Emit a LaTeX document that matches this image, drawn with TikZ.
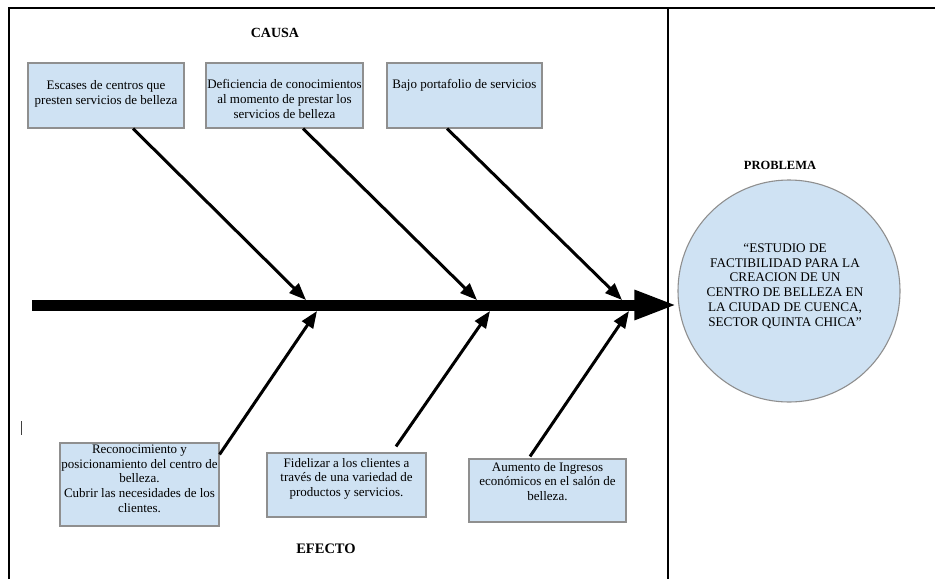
\documentclass[tikz,border=0pt]{standalone}
\usepackage{fontspec}
\setmainfont{Liberation Serif}
\usetikzlibrary{arrows.meta,shapes.geometric}
\definecolor{boxfill}{HTML}{CFE2F3}
\definecolor{boxline}{HTML}{8F8F8F}
\tikzset{
  box/.style={draw=boxline, line width=1.1pt, fill=boxfill, inner sep=0pt},
  txt/.style={font=\fontsize{13}{14.6}\selectfont, align=center, inner sep=0pt, anchor=north},
  head/.style={font=\bfseries\fontsize{14}{16}\selectfont, inner sep=0pt},
  bone/.style={line width=3pt, -{Triangle[length=17pt,width=13pt]}},
  spine/.style={line width=11pt, -{Triangle[length=43pt,width=27pt]}},
  frame/.style={line width=1.2pt, black}
}
\begin{document}
\begin{tikzpicture}[x=1pt,y=-1pt]
\fill[white] (0,0) rectangle (935,579);
\useasboundingbox (0,0) rectangle (935,579);
% frame
\coordinate (fbl) at (9,579);
\coordinate (ftl) at (9,8);
\coordinate (ftr) at (935,8);
\coordinate (fdt) at (668,8);
\coordinate (fdb) at (668,579);
\draw[frame] (fbl) -- (ftl) -- (ftr);
\draw[frame] (fdt) -- (fdb);
% small cursor mark
\coordinate (m1) at (21,421);
\coordinate (m2) at (21,435);
\draw[line width=1pt, black!75] (m1) -- (m2);
% headings
\node[head] (causa) at (275,33) {CAUSA};
\node[head, font=\bfseries\fontsize{14.5}{16}\selectfont] (efecto) at (326,549) {EFECTO};
\node[head, font=\bfseries\fontsize{12.5}{14}\selectfont] (problema) at (780,165) {PROBLEMA};
% cause boxes
\node[box, minimum width=156pt, minimum height=65pt] (c1) at (106,95.5) {};
\node[box, minimum width=157pt, minimum height=65pt] (c2) at (284.5,95.5) {};
\node[box, minimum width=155pt, minimum height=65pt] (c3) at (464.5,95.5) {};
\node[txt] (c1t) at ([yshift=-18pt]c1.north) {Escases de centros que\\presten servicios de belleza};
\node[txt] (c2t) at ([yshift=-17pt]c2.north) {Deficiencia de conocimientos\\al momento de prestar los\\servicios de belleza};
\node[txt] (c3t) at ([yshift=-17pt]c3.north) {Bajo portafolio de servicios};
% effect boxes
\node[box, minimum width=159pt, minimum height=83pt] (e1) at (139.5,484.5) {};
\node[box, minimum width=159pt, minimum height=64pt] (e2) at (346.5,485) {};
\node[box, minimum width=157pt, minimum height=63pt] (e3) at (547.5,490.5) {};
\node[txt] (e1t) at ([yshift=-2.5pt]e1.north) {Reconocimiento y\\posicionamiento del centro de\\belleza.\\Cubrir las necesidades de los\\clientes.};
\node[txt] (e2t) at ([yshift=-5.5pt]e2.north) {Fidelizar a los clientes a\\través de una variedad de\\productos y servicios.};
\node[txt] (e3t) at ([yshift=-3.5pt]e3.north) {Aumento de Ingresos\\económicos en el salón de\\belleza.};
% problem circle
\node[circle, draw=boxline, line width=1.1pt, fill=boxfill, minimum size=222pt, inner sep=0pt] (prob) at (789,291) {};
\node[font=\fontsize{13.2}{14.8}\selectfont, align=center, inner sep=0pt] (probt) at ([xshift=-4pt,yshift=5pt]prob.center) {``ESTUDIO DE\\FACTIBILIDAD PARA LA\\CREACION DE UN\\CENTRO DE BELLEZA EN\\LA CIUDAD DE CUENCA,\\SECTOR QUINTA CHICA''};
% spine
\coordinate (s0) at (32,305);
\draw[spine] (s0) -- (s0 -| prob.west);
% tips on spine
\coordinate (t1) at (306,300);
\coordinate (t2) at (477,300);
\coordinate (t3) at (622,300);
\coordinate (b1) at (317,311);
\coordinate (b2) at (490,311);
\coordinate (b3) at (629,311);
% cause bones
\draw[bone] ([xshift=27pt]c1.south) -- (t1);
\draw[bone] ([xshift=18.5pt]c2.south) -- (t2);
\draw[bone] ([xshift=-17.5pt]c3.south) -- (t3);
% effect bones
\draw[bone] ([yshift=-12pt]e1.north east) -- (b1);
\draw[bone] ([xshift=49.5pt,yshift=6pt]e2.north) -- (b2);
\draw[bone] ([xshift=-17.5pt,yshift=2pt]e3.north) -- (b3);
\end{tikzpicture}
\end{document}
